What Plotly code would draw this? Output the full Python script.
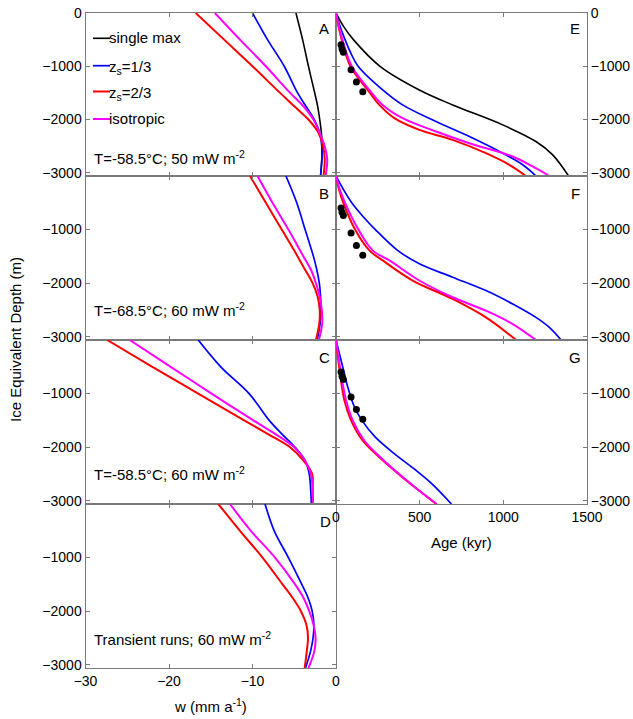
import plotly.graph_objects as go

# ---------------- data ----------------
# left panels: vertical velocity w (mm/a) vs ice-equivalent depth (m)
depth_w = [0, -500, -1000, -1500, -1750, -2000, -2250, -2500, -2750, -3060]

wA_single = [-4.8, -4.0, -3.3, -2.55, -2.2, -1.95, -1.75, -1.65, -1.7, -1.85]
wA_zs13 = [-10.0, -8.2, -6.2, -4.6, -3.6, -2.6, -1.95, -1.7, -1.7, -1.85]
wA_zs23 = [-16.8, -13.4, -10.0, -6.7, -5.0, -3.3, -2.1, -1.55, -1.35, -1.5]
wA_iso = [-14.5, -11.5, -8.4, -5.5, -3.9, -2.7, -1.95, -1.35, -1.05, -1.25]

wB_zs13 = [-6.0, -4.7, -3.7, -2.7, -2.3, -2.0, -1.85, -1.8, -1.9, -2.25]
wB_zs23 = [-10.3, -8.4, -6.5, -4.6, -3.7, -2.8, -2.2, -1.95, -2.0, -2.4]
wB_iso = [-9.4, -7.6, -5.7, -3.9, -3.0, -2.4, -1.95, -1.7, -1.65, -2.05]

wC_zs13 = [-16.5, -13.8, -10.4, -8.0, -6.5, -4.9, -3.7, -3.2, -3.05, -2.95]
wC_zs23 = [-27.4, -22.0, -16.5, -11.0, -8.2, -5.5, -3.9, -2.85, -2.8, -2.8]
wC_iso = [-24.7, -19.8, -14.9, -9.9, -7.3, -5.0, -3.7, -3.0, -2.8, -2.75]

wD_zs13 = [-8.5, -7.4, -5.7, -4.1, -3.35, -2.85, -2.65, -2.75, -3.05, -3.65]
wD_zs23 = [-14.1, -11.5, -8.8, -6.4, -5.2, -4.2, -3.55, -3.35, -3.5, -3.75]
wD_iso = [-12.7, -10.2, -7.3, -4.9, -3.9, -3.2, -2.7, -2.45, -2.6, -3.3]

# right panels: age (kyr) vs depth (m)
dE_single = [0, -250, -500, -1000, -1444, -1725, -2100, -2413, -2663, -3060]
aE_single = [0, 45, 104, 263, 498, 697, 996, 1195, 1295, 1390]
dE_zs13 = [0, -250, -500, -750, -1000, -1444, -1725, -2038, -2319, -2631, -2850, -3060]
aE_zs13 = [0, 24, 54, 88, 132, 279, 398, 598, 797, 996, 1116, 1195]
dE_zs23 = [0, -250, -500, -1000, -1444, -1725, -1975, -2194, -2381, -2631, -2850, -3060]
aE_zs23 = [0, 15, 34, 86, 189, 259, 349, 498, 697, 896, 1036, 1135]
dE_iso = [0, -250, -500, -1000, -1444, -1725, -1975, -2225, -2444, -2694, -2881, -3060]
aE_iso = [0, 17, 38, 94, 199, 279, 398, 598, 797, 1056, 1175, 1275]

dF_zs13 = [0, -250, -500, -750, -1000, -1388, -1637, -1888, -2138, -2388, -2638, -2825, -3060]
aF_zs13 = [0, 44, 94, 160, 235, 368, 498, 697, 896, 1056, 1195, 1275, 1345]
dF_zs23 = [0, -250, -500, -1000, -1388, -1575, -1950, -2294, -2638, -3060]
aF_zs23 = [0, 18, 44, 114, 199, 279, 458, 697, 896, 1076]
dF_iso = [0, -250, -500, -1000, -1388, -1575, -1950, -2263, -2513, -2763, -3060]
aF_iso = [0, 22, 54, 134, 219, 319, 498, 697, 896, 1056, 1195]

dG_zs13 = [0, -500, -875, -1250, -1500, -1813, -2125, -2438, -2688, -3060]
aG_zs13 = [0, 40, 70, 110, 155, 235, 350, 480, 575, 690]
dG_zs23 = [0, -625, -1125, -1500, -1875, -2188, -2563, -2813, -3060]
aG_zs23 = [0, 24, 50, 90, 159, 259, 398, 498, 598]
dG_iso = [0, -625, -1125, -1500, -1875, -2188, -2563, -2813, -3060]
aG_iso = [0, 30, 60, 100, 169, 265, 400, 498, 603]

# measured age/depth points
obs_age = [30, 36, 44, 90, 122, 160]
obs_depth = [-595, -675, -735, -1065, -1295, -1480]

series_names = ["single max", "z<sub>s</sub>=1/3", "z<sub>s</sub>=2/3", "isotropic"]
series_colors = ["#000000", "#0000ff", "#ff0000", "#ff00ff"]
series_widths = [1.6, 1.7, 2.0, 2.0]

panel_letters = ["A", "B", "C", "D", "E", "F", "G"]
panel_notes = ["T=-58.5°C; 50 mW m<sup>-2</sup>", "T=-68.5°C; 60 mW m<sup>-2</sup>",
               "T=-58.5°C; 60 mW m<sup>-2</sup>", "Transient runs; 60 mW m<sup>-2</sup>"]

w_ticks = [-30, -20, -10, 0]
age_ticks = [0, 500, 1000, 1500]

# ---------------- layout helpers ----------------
W, H = 633, 719
FONT = "Liberation Sans"
FS = 14
FSA = 15
GRAY = "#7a7a7a"


def px(x):
    return x / W


def py(y):
    return 1 - y / H


LX = (85.5, 336)
RX = (336, 587)
ROWS = [(13, 176), (176, 340), (340, 504), (504, 668)]

fig = go.Figure()


def add_line(x, y, idx, k):
    fig.add_trace(go.Scatter(
        x=x, y=y, mode="lines", line=dict(color=series_colors[k], width=series_widths[k], shape="spline", smoothing=1.0),
        xaxis="x" + ("" if idx == 1 else str(idx)), yaxis="y" + ("" if idx == 1 else str(idx)),
        name=series_names[k], showlegend=False, hoverinfo="skip"))


# left panels (1-4)
add_line(wA_single, depth_w, 1, 0)
for idx, (b, r, m) in enumerate([(wA_zs13, wA_zs23, wA_iso), (wB_zs13, wB_zs23, wB_iso),
                                  (wC_zs13, wC_zs23, wC_iso), (wD_zs13, wD_zs23, wD_iso)], start=1):
    add_line(b, depth_w, idx, 1)
    add_line(r, depth_w, idx, 2)
    add_line(m, depth_w, idx, 3)

# right panels (5-7)
add_line(aE_single, dE_single, 5, 0)
for idx, (ab, db, ar, dr, am, dm) in zip([5, 6, 7], [
        (aE_zs13, dE_zs13, aE_zs23, dE_zs23, aE_iso, dE_iso),
        (aF_zs13, dF_zs13, aF_zs23, dF_zs23, aF_iso, dF_iso),
        (aG_zs13, dG_zs13, aG_zs23, dG_zs23, aG_iso, dG_iso)]):
    add_line(ab, db, idx, 1)
    add_line(ar, dr, idx, 2)
    add_line(am, dm, idx, 3)
    fig.add_trace(go.Scatter(x=obs_age, y=obs_depth, mode="markers",
                             marker=dict(color="black", size=7),
                             xaxis="x%d" % idx, yaxis="y%d" % idx, showlegend=False, hoverinfo="skip"))

layout = dict(width=W, height=H, margin=dict(l=0, r=0, t=0, b=0, autoexpand=False),
              paper_bgcolor="white", plot_bgcolor="white", showlegend=False,
              font=dict(family=FONT, size=FS, color="black"))

axis_common = dict(showline=True, linecolor=GRAY, linewidth=1, mirror="ticks", ticks="inside",
                   ticklen=4, tickcolor=GRAY, showgrid=False, zeroline=False, automargin=False,
                   tickfont=dict(family=FONT, size=FS, color="black"))

for i in range(7):
    idx = i + 1
    xs = "xaxis" if idx == 1 else "xaxis%d" % idx
    ys = "yaxis" if idx == 1 else "yaxis%d" % idx
    if i < 4:
        row = ROWS[i]
        xd = LX
        xr = [-30, 0]
        xt = w_ticks
        showx = (i == 3)
        yside = "left"
    else:
        row = ROWS[i - 4]
        xd = RX
        xr = [0, 1500]
        xt = age_ticks
        showx = (i == 6)
        yside = "right"
    ytv = [0, -1000, -2000, -3000] if i in (0, 4) else [-1000, -2000, -3000]
    layout[xs] = dict(axis_common, domain=[px(xd[0]), px(xd[1])], range=xr, tickvals=xt,
                      showticklabels=showx, anchor="y" if idx == 1 else "y%d" % idx)
    layout[ys] = dict(axis_common, domain=[py(row[1]), py(row[0])], range=[-3060, 0], tickvals=ytv,
                      side=yside, anchor="x" if idx == 1 else "x%d" % idx)

fig.update_layout(**layout)

ann = []
# panel letters
letter_pos = [(324, 29), (324, 193), (324, 357), (325, 521), (575, 29), (575, 193), (575, 357)]
for t, (x, y) in zip(panel_letters, letter_pos):
    ann.append(dict(text=t, x=px(x), y=py(y), xref="paper", yref="paper", showarrow=False,
                    xanchor="center", yanchor="middle", font=dict(family=FONT, size=FSA)))
# panel notes
note_pos = [(92, 157), (92, 309), (92, 473), (92, 638)]
for t, (x, y) in zip(panel_notes, note_pos):
    ann.append(dict(text=t, x=px(x), y=py(y), xref="paper", yref="paper", showarrow=False,
                    xanchor="left", yanchor="middle", font=dict(family=FONT, size=FSA)))
# legend
leg_y = [38.3, 65.7, 91.5, 119]
shapes = []
for k, yy in enumerate(leg_y):
    shapes.append(dict(type="line", xref="paper", yref="paper", x0=px(93), x1=px(110), y0=py(yy), y1=py(yy),
                       line=dict(color=series_colors[k], width=series_widths[k])))
    ann.append(dict(text=series_names[k], x=px(107), y=py(yy - (1 if k in (0, 3) else -1.5)),
                    xref="paper", yref="paper", showarrow=False, xanchor="left", yanchor="middle",
                    font=dict(family=FONT, size=FSA)))
# axis titles
ann.append(dict(text="Ice Equivalent Depth (m)", x=px(15), y=py(340), xref="paper", yref="paper",
                showarrow=False, textangle=-90, xanchor="center", yanchor="middle", font=dict(family=FONT, size=FSA)))
ann.append(dict(text="w (mm a<sup>-1</sup>)", x=px(210), y=py(705), xref="paper", yref="paper",
                showarrow=False, xanchor="center", yanchor="middle", font=dict(family=FONT, size=FSA)))
ann.append(dict(text="Age (kyr)", x=px(461), y=py(542), xref="paper", yref="paper",
                showarrow=False, xanchor="center", yanchor="middle", font=dict(family=FONT, size=FSA)))

fig.update_layout(annotations=ann, shapes=shapes)
fig.write_html("out.html", config={"displayModeBar": False},
               post_script="document.body.style.margin='0px';document.body.style.overflow='hidden';")
